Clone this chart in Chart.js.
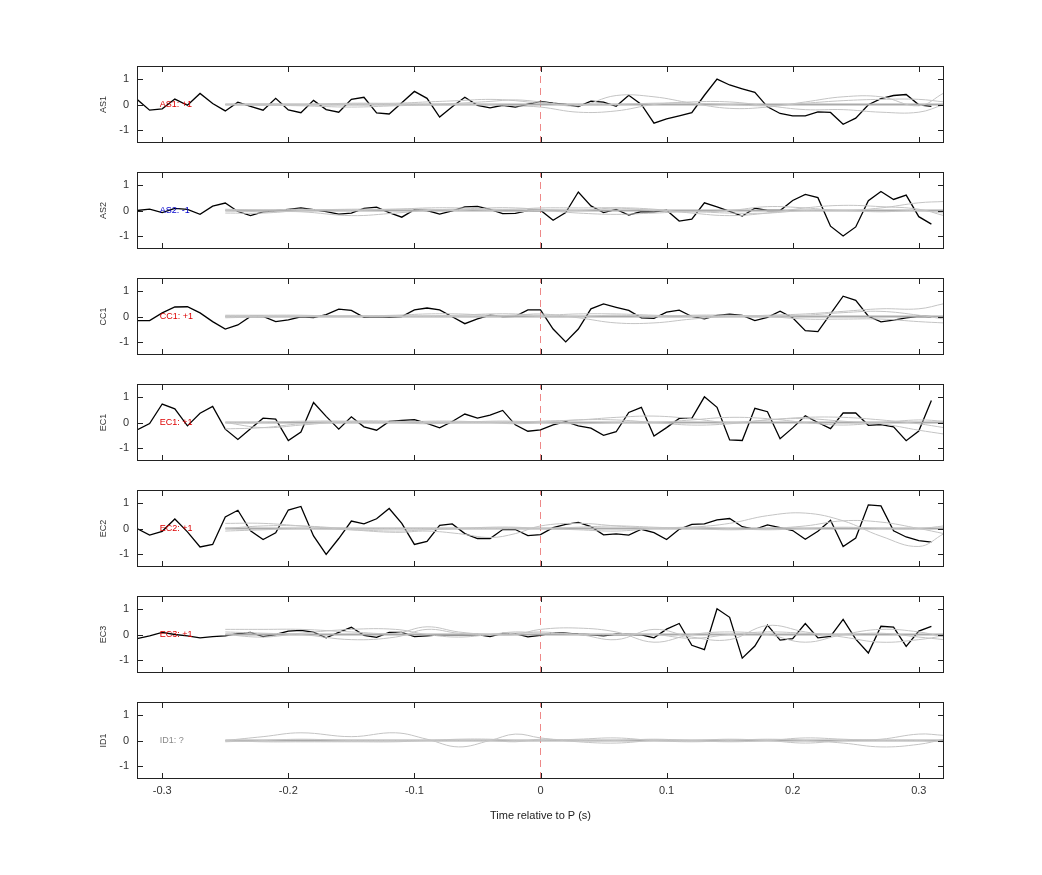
<!DOCTYPE html>
<html><head><meta charset="utf-8">
<script src="https://cdn.jsdelivr.net/npm/chart.js@4/dist/chart.umd.min.js"></script>
<style>body{margin:0;background:#fff;width:1042px;height:875px;position:relative;overflow:hidden}
.p{position:absolute;left:90px;width:854px}</style></head><body>
<script>
const panelNames=["AS1","AS2","CC1","EC1","EC2","EC3","ID1"];
const panelLabels=["AS1: +1","AS2: -1","CC1: +1","EC1: +1","EC2: +1","EC3: +1","ID1: ?"];
const labelColors=["#dd0000","#0000cc","#dd0000","#dd0000","#dd0000","#dd0000","#888888"];
const xTicks=[-0.3,-0.2,-0.1,0,0.1,0.2,0.3];
const yTicks=[-1,0,1];
const xTitle="Time relative to P (s)";
const time=[-0.32,-0.31,-0.30,-0.29,-0.28,-0.27,-0.26,-0.25,-0.24,-0.23,-0.22,-0.21,-0.20,-0.19,-0.18,-0.17,-0.16,-0.15,-0.14,-0.13,-0.12,-0.11,-0.10,-0.09,-0.08,-0.07,-0.06,-0.05,-0.04,-0.03,-0.02,-0.01,0,
0.01,0.02,0.03,0.04,0.05,0.06,0.07,0.08,0.09,0.10,0.11,0.12,0.13,0.14,0.15,0.16,0.17,0.18,0.19,0.20,0.21,0.22,0.23,0.24,0.25,0.26,0.27,0.28,0.29,0.30,0.31];
const AS1=[0.2,-0.22,-0.17,0.21,-0.03,0.43,0.04,-0.25,0.09,-0.07,-0.22,0.24,-0.21,-0.32,0.16,-0.2,-0.3,0.2,0.28,-0.33,-0.37,0.07,0.51,0.24,-0.49,-0.09,0.28,-0.03,-0.13,-0.03,-0.1,0.01,0.12,
0.05,0,-0.08,0.13,0.09,-0.07,0.36,0,-0.73,-0.56,-0.44,-0.32,0.36,0.99,0.76,0.61,0.47,-0.09,-0.35,-0.44,-0.44,-0.29,-0.31,-0.77,-0.53,-0.01,0.23,0.35,0.39,-0.01,-0.07];
const AS2=[0,0.05,-0.08,0.08,0.04,-0.15,0.17,0.29,-0.04,-0.2,-0.05,-0.01,0.04,0.1,0.03,-0.04,-0.14,-0.1,0.08,0.13,-0.08,-0.26,0.03,0,-0.14,-0.01,0.14,0.16,0.04,-0.12,-0.11,0,0.01,
-0.38,-0.08,0.72,0.18,-0.08,0.04,-0.18,-0.04,-0.05,0.01,-0.41,-0.34,0.3,0.14,-0.03,-0.22,0.09,0,0,0.39,0.63,0.5,-0.61,-0.99,-0.64,0.38,0.74,0.43,0.6,-0.24,-0.53];
const CC1=[-0.16,-0.16,0.14,0.37,0.38,0.14,-0.2,-0.49,-0.33,0,0,-0.2,-0.13,-0.01,-0.04,0.07,0.29,0.24,-0.03,-0.01,-0.03,0,0.26,0.33,0.26,-0.01,-0.28,-0.09,0.05,0,0.01,0.26,0.26,
-0.49,-0.99,-0.49,0.3,0.49,0.36,0.24,-0.05,-0.07,0.17,0.25,0,-0.09,0.04,0.09,0.04,-0.16,-0.03,0.21,-0.05,-0.55,-0.59,0.1,0.79,0.63,0.01,-0.21,-0.14,-0.05,0.01,-0.01];
const EC1=[-0.29,-0.04,0.72,0.53,-0.13,0.36,0.63,-0.26,-0.66,-0.24,0.17,0.13,-0.7,-0.37,0.78,0.24,-0.26,0.22,-0.17,-0.3,0.04,0.08,0.11,-0.03,-0.21,0.04,0.33,0.17,0.29,0.47,-0.09,-0.34,-0.29,
-0.09,0.03,-0.13,-0.22,-0.5,-0.36,0.39,0.59,-0.53,-0.2,0.16,0.16,1.0,0.59,-0.68,-0.7,0.55,0.42,-0.63,-0.21,0.26,0,-0.24,0.37,0.37,-0.11,-0.08,-0.17,-0.71,-0.33,0.86];
const EC2=[0,-0.26,-0.11,0.37,-0.13,-0.72,-0.62,0.45,0.71,-0.09,-0.43,-0.17,0.72,0.86,-0.29,-1.01,-0.39,0.29,0.18,0.38,0.78,0.2,-0.62,-0.5,0.12,0.18,-0.2,-0.39,-0.39,-0.04,-0.04,-0.28,-0.24,
0.03,0.16,0.24,0.07,-0.25,-0.21,-0.26,-0.03,-0.16,-0.43,-0.03,0.16,0.18,0.34,0.39,0.07,-0.03,0.14,0.03,-0.08,-0.42,-0.11,0.32,-0.7,-0.37,0.92,0.88,-0.09,-0.33,-0.47,-0.53];
const EC3=[-0.16,-0.05,0.08,0,-0.05,-0.13,-0.08,-0.05,0.03,0.08,-0.08,0,0.13,0.16,0.09,-0.13,0.08,0.28,-0.03,-0.11,0.08,0.08,-0.08,-0.05,-0.01,-0.01,-0.01,0,-0.08,0.04,0.03,-0.09,-0.03,
0.07,0.05,0.01,-0.01,-0.05,0.01,0,-0.01,-0.13,0.21,0.43,-0.42,-0.59,1.0,0.67,-0.92,-0.45,0.37,-0.22,-0.16,0.43,-0.13,-0.07,0.59,-0.18,-0.72,0.32,0.29,-0.46,0.13,0.32];
const blackSeries=[AS1,AS2,CC1,EC1,EC2,EC3,null];
const grayTime=[-0.25,-0.22,-0.19,-0.15,-0.115,-0.09,-0.065,-0.04,-0.02,0,0.03,0.06,0.09,0.12,0.15,0.18,0.21,0.24,0.27,0.30,0.32];
const grayAS1=[[0,0,0,0,0,0,0.05,0.12,0.18,0.1,-0.05,0.35,0.3,0.05,-0.15,-0.1,0.1,0.3,0.3,-0.05,0.45],[0,-0.03,-0.05,-0.1,-0.05,-0.02,0,0,-0.05,-0.1,-0.3,-0.25,0,0.1,0.1,-0.05,-0.2,-0.2,-0.3,-0.3,0],[0,0.02,0,0.05,0.05,0.1,0.15,0.2,0.15,0.05,0,0,0.05,0.05,0,-0.05,0.05,0.15,0.2,0.2,0.1],[0,0,0,0,0,0,0,0,0,0,0,0,0,0,0,0,0,0,0,0,0]];
const grayAS2=[[-0.1,-0.1,0,0.05,0.05,0.1,0.1,0.05,0.05,0.1,0.1,0.1,0,-0.05,0,0.15,0.1,0,0.1,0.3,0.35],[0,-0.05,-0.05,-0.2,-0.1,0,0.05,0,-0.05,0,-0.1,-0.15,-0.1,-0.05,-0.1,-0.1,0,0,-0.05,0,-0.1],[0.05,0.02,0.05,0,0.05,0.05,0,0.1,0.1,0.05,0,0.1,0.05,-0.1,-0.2,-0.1,0.1,0.2,0.15,0.05,-0.2],[0,0,0,0,0,0,0,0,0,0,0,0,0,0,0,0,0,0,0,0,0]];
const grayCC1=[[0,0,0,0.02,0.05,0.1,0.1,0.05,0.05,0.1,-0.05,-0.25,-0.25,-0.1,0,0,0.05,0.15,0.2,0.05,-0.1],[0.05,0.05,0.05,0,0,0.02,0.05,0.1,0.1,0.05,0.1,0.1,0.05,0,0,0.05,0.1,0.2,0.3,0.3,0.5],[-0.05,-0.02,0,0,0.02,0,0,0,0.05,0,0,0.05,0,0.05,0.05,0,-0.1,-0.1,-0.1,-0.2,-0.25],[0,0,0,0,0,0,0,0,0,0,0,0,0,0,0,0,0,0,0,0,0]];
const grayEC1=[[0,-0.2,-0.1,0.05,0.05,0,0,0,0,0.05,0.1,0.2,0.25,0.15,0,0.1,0.2,0.2,0.1,-0.05,-0.2],[-0.25,-0.2,-0.05,0,0,0.05,0.05,0,-0.05,0,0.1,0.1,0,-0.1,-0.05,0.1,0.15,0.05,-0.05,-0.3,-0.45],[0,0,0.05,0.05,0,-0.05,0,0.05,0.05,0,-0.05,0,0,0.1,0.2,0.15,0,-0.1,0,0.1,0.05],[0,0,0,0,0,0,0,0,0,0,0,0,0,0,0,0,0,0,0,0,0]];
const grayEC2=[[0.2,0.2,0.1,-0.05,-0.15,-0.1,-0.2,-0.35,-0.2,0.1,0.2,0.1,0,0.05,0.2,0.5,0.6,0.3,-0.3,-0.7,-0.2],[0,0.1,0.1,0,0,0,0,0,0,0,0.05,0.1,0.05,0,-0.05,0,0.1,0.3,0.25,0,-0.2],[-0.1,-0.05,0,-0.05,-0.1,-0.05,0,0.05,0.05,0,-0.05,-0.1,0,0.05,0,-0.05,0,0.05,0,0,0.1],[0,0,0,0,0,0,0,0,0,0,0,0,0,0,0,0,0,0,0,0,0]];
const grayEC3=[[0.2,0.2,0.2,0.1,0.05,0.3,0.1,0,0,0.2,0.25,0.1,-0.3,0,0.1,0,-0.3,0,0.2,0.1,-0.1],[0,-0.1,0.05,0.2,0.2,0,-0.1,0,0.1,0.05,0,-0.2,0.2,-0.1,-0.2,0.35,0.1,-0.1,-0.3,-0.2,-0.05],[0.1,0.05,0,-0.2,-0.1,0.2,0.05,0,0.05,0.1,0,0,0,-0.15,0,0.1,0.05,0,0.05,-0.1,-0.2],[0,0,0,0,0,0,0,0,0,0,0,0,0,0,0,0,0,0,0,0,0]];
const grayID1=[[0,0.15,0.3,0.15,0.3,0.05,-0.25,0,0.25,0.1,-0.05,-0.1,0,0,0.05,0,-0.1,0,0.05,0.25,0.2],[-0.05,0,0.05,0,0,0,0.05,0.05,0,0,0.05,0.1,0,-0.05,0,0.05,0,-0.1,-0.25,-0.15,0.05],[0,-0.05,-0.05,-0.05,-0.05,0,0,0,-0.05,0.05,0,0,0.05,0,-0.05,0,0.1,0.05,0,0,-0.05],[0,0,0,0,0,0,0,0,0,0,0,0,0,0,0,0,0,0,0,0,0]];
const graySeries=[grayAS1,grayAS2,grayCC1,grayEC1,grayEC2,grayEC3,grayID1];

const FONT="'Liberation Sans', Arial, sans-serif";
const panelTops=[66,172,278,384,490,596,702];
const boxPlugin={id:'box',afterDraw(c,a,o){
  const {ctx,chartArea:ca,scales:{x,y}}=c;
  ctx.save();ctx.strokeStyle='#222';ctx.lineWidth=1;
  ctx.strokeRect(Math.round(ca.left)+0.5,Math.round(ca.top)+0.5,Math.round(ca.right-ca.left)-1,Math.round(ca.bottom-ca.top)-1);
  ctx.beginPath();
  xTicks.forEach(v=>{const px=Math.round(x.getPixelForValue(v))+0.5;ctx.moveTo(px,ca.bottom);ctx.lineTo(px,ca.bottom-6);ctx.moveTo(px,ca.top);ctx.lineTo(px,ca.top+6);});
  yTicks.forEach(v=>{const py=Math.round(y.getPixelForValue(v))+0.5;ctx.moveTo(ca.left,py);ctx.lineTo(ca.left+6,py);ctx.moveTo(ca.right,py);ctx.lineTo(ca.right-6,py);});
  ctx.stroke();
  ctx.fillStyle='#333';ctx.font="11px "+FONT;ctx.textBaseline='middle';ctx.textAlign='right';
  yTicks.forEach(v=>ctx.fillText(String(v),ca.left-8,y.getPixelForValue(v)));
  ctx.save();ctx.translate(ca.left-33,y.getPixelForValue(0));ctx.rotate(-Math.PI/2);
  ctx.font="9px "+FONT;ctx.textAlign='center';ctx.fillText(o.name,0,0);ctx.restore();
  if(o.last){
    ctx.textAlign='center';ctx.textBaseline='top';ctx.font="11px "+FONT;
    xTicks.forEach(v=>ctx.fillText(String(v),x.getPixelForValue(v),ca.bottom+6));
    ctx.fillStyle='#222';ctx.fillText(xTitle,x.getPixelForValue(0),ca.bottom+31);
  }
  ctx.font="9px "+FONT;ctx.fillStyle=o.color;ctx.textBaseline='middle';ctx.textAlign='left';
  ctx.fillText(o.text,x.getPixelForValue(-0.302),y.getPixelForValue(0));
  ctx.restore();
}};

panelNames.forEach((name,i)=>{
  const last=i===6;
  const d=document.createElement('div');d.className='p';
  d.style.top=panelTops[i]+'px';d.style.height=(last?130:77)+'px';
  const cv=document.createElement('canvas');d.appendChild(cv);document.body.appendChild(d);
  const ds=[];
  graySeries[i].forEach((g,k)=>{
    ds.push({data:grayTime.map((t,j)=>({x:t,y:g[j]})),borderColor:k===3?'#aaaaaa':'#c4c4c4',borderWidth:k===3?2:1,tension:0.4,pointRadius:0});
  });
  if(blackSeries[i]) ds.push({data:time.map((t,j)=>({x:t,y:blackSeries[i][j]})),borderColor:'#000',borderWidth:1.3,tension:0,pointRadius:0});
  ds.push({data:[{x:0,y:-1.5},{x:0,y:1.5}],borderColor:'#ee8888',borderWidth:1,borderDash:[7,5],pointRadius:0});
  new Chart(cv,{type:'line',data:{datasets:ds},
    options:{responsive:true,maintainAspectRatio:false,animation:false,events:[],
      layout:{padding:{top:0,right:0,bottom:last?53:0,left:47}},
      plugins:{legend:{display:false},tooltip:{enabled:false},box:{text:panelLabels[i],color:labelColors[i],name:name,last:last}},
      scales:{
        x:{type:'linear',display:false,min:-0.32,max:0.32},
        y:{display:false,min:-1.5,max:1.5}
      }},plugins:[boxPlugin]});
});
</script></body></html>
